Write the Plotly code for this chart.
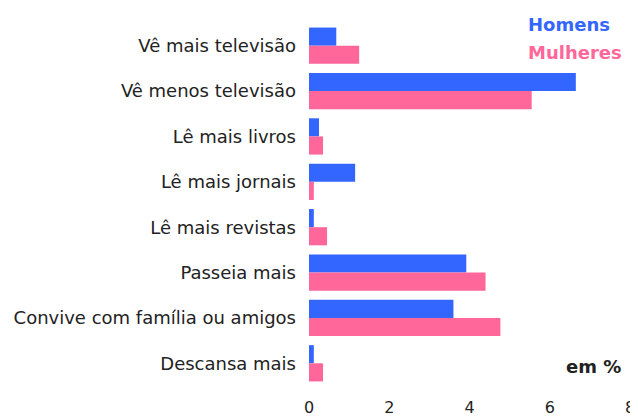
import plotly.graph_objects as go

categories = ["Vê mais televisão", "Vê menos televisão", "Lê mais livros", "Lê mais jornais",
              "Lê mais revistas", "Passeia mais", "Convive com família ou amigos", "Descansa mais"]
homens = [0.68, 6.65, 0.25, 1.15, 0.12, 3.92, 3.6, 0.12]
mulheres = [1.25, 5.55, 0.35, 0.12, 0.45, 4.4, 4.77, 0.35]
x_ticks = [0, 2, 4, 6, 8]

BLUE = "#3366FF"
PINK = "#FF6699"
TXT = "#222222"

# page body has an 8px margin; compensate so the chart lands where the reference has it
OFF = 8
W, H = 638 - OFF, 416 - OFF
L, R, T, B = 309 - OFF, 8, 23 - OFF, 30

fig = go.Figure()
fig.add_trace(go.Bar(y=categories, x=homens, orientation="h", name="Homens",
                     marker=dict(color=BLUE, line=dict(width=0))))
fig.add_trace(go.Bar(y=categories, x=mulheres, orientation="h", name="Mulheres",
                     marker=dict(color=PINK, line=dict(width=0))))

pw = W - L - R
ph = H - T - B
def to_paper(px, py):
    px -= OFF
    py -= OFF
    return (px - L) / pw, 1 - (py - T) / ph

anns = []
for text, px, py, color in [("<b>Homens</b>", 612, 24, BLUE),
                            ("<b>Mulheres</b>", 624, 53, PINK),
                            ("<b>em %</b>", 623, 366, TXT)]:
    x, y = to_paper(px, py)
    anns.append(dict(text=text, x=x, y=y, xref="paper", yref="paper", showarrow=False,
                     xanchor="right", yanchor="middle",
                     font=dict(family="DejaVu Sans", size=18, color=color)))

fig.update_layout(
    width=W, height=H,
    margin=dict(l=L, r=R, t=T, b=B),
    paper_bgcolor="white", plot_bgcolor="white",
    barmode="group", bargap=0.2, bargroupgap=0,
    showlegend=False,
    font=dict(family="DejaVu Sans", size=18, color=TXT),
    xaxis=dict(range=[0, 8], tickvals=x_ticks, showgrid=False, zeroline=False,
               showline=False, ticks="", ticklabelstandoff=10, automargin=False,
               tickfont=dict(size=16, color=TXT)),
    yaxis=dict(autorange="reversed", showgrid=False, zeroline=False, showline=False,
               ticks="", ticklabelstandoff=12, automargin=False,
               tickfont=dict(size=18, color=TXT)),
    annotations=anns,
)

fig.write_html("out.html")
